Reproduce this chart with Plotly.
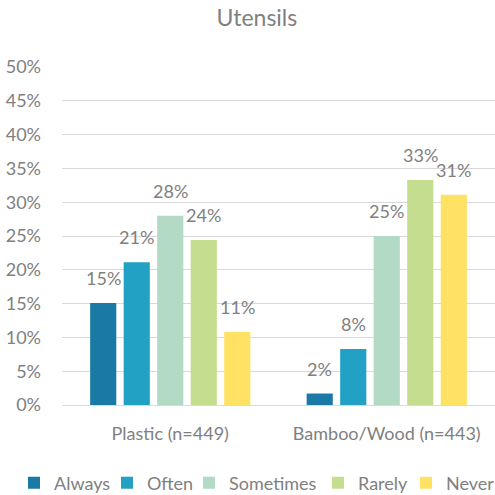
import plotly.graph_objects as go

categories = ["Plastic (n=449)", "Bamboo/Wood (n=443)"]
series = ["Always", "Often", "Sometimes", "Rarely", "Never"]
always = [15.1, 1.7]
often = [21.1, 8.3]
sometimes = [28.0, 25.0]
rarely = [24.4, 33.3]
never = [10.8, 31.1]
values = [always, often, sometimes, rarely, never]
colors = ["#1a7aa5", "#22a1c4", "#b2dac5", "#c4dd8f", "#ffe264"]
yticks = [0, 5, 10, 15, 20, 25, 30, 35, 40, 45, 50]

FONT = "Lato, Open Sans, sans-serif"
GRAY = "#808080"
FS = 18
BARGAP = 0.226
NS = len(series)
SLOT = (1 - BARGAP) / NS  # width of one bar slot in category units

# legend entry left edges (pixels) -> paper fractions
legend_px = [14, 107, 189, 318, 406]
PLOT_L, PLOT_W = 62, 433

fig = go.Figure()
legend_layout = {}
annotations = []
for i, (name, vals, col) in enumerate(zip(series, values, colors)):
    key = "legend" if i == 0 else f"legend{i+1}"
    fig.add_trace(go.Bar(
        name=name, x=categories, y=vals, marker_color=col,
        marker_line_width=0, legend=key,
    ))
    for j, v in enumerate(vals):
        annotations.append(dict(
            x=j + (i - (NS - 1) / 2) * SLOT, y=v, xref="x", yref="y",
            text=f"{round(v)}%", showarrow=False, xanchor="center",
            yanchor="bottom", yshift=12,
            font=dict(size=FS, color=GRAY, family=FONT),
        ))
    legend_layout[key] = dict(
        x=(legend_px[i] - PLOT_L) / PLOT_W, xanchor="left",
        y=-0.231, yanchor="middle", orientation="h",
        font=dict(size=FS, color=GRAY, family=FONT), itemwidth=30,
        bgcolor="rgba(0,0,0,0)", borderwidth=0,
    )

fig.update_layout(
    width=495, height=495,
    margin=dict(l=62, r=0, t=67, b=90, autoexpand=False),
    paper_bgcolor="white", plot_bgcolor="white",
    barmode="group", bargap=BARGAP, bargroupgap=0.22,
    title=dict(text="Utensils", x=0.519, xanchor="center", y=0.964, yanchor="middle",
               font=dict(size=23, color=GRAY, family=FONT)),
    font=dict(family=FONT, color=GRAY, size=FS),
    showlegend=True,
    annotations=annotations,
    **legend_layout,
)
fig.update_yaxes(range=[0, 50], tickvals=yticks, ticktext=[f"{t}%" for t in yticks],
                 showgrid=True, gridcolor="#d9d9d9", gridwidth=1, zeroline=False,
                 showline=False, ticks="", ticklabelstandoff=20, automargin=False,
                 tickfont=dict(size=FS, color=GRAY, family=FONT))
fig.update_xaxes(showline=True, linecolor="#d9d9d9", linewidth=1, ticks="",
                 ticklabelstandoff=12, automargin=False, range=[-0.5, 1.5],
                 tickfont=dict(size=FS, color=GRAY, family=FONT))

fig.write_html("out.html")
